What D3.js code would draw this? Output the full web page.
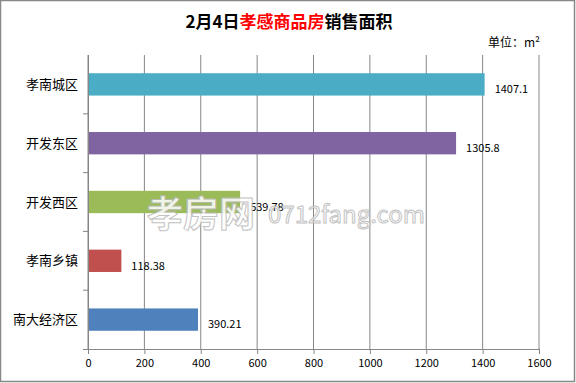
<!DOCTYPE html>
<html>
<head>
<meta charset="utf-8">
<script src="https://cdn.jsdelivr.net/npm/d3@7"></script>
<style>
  body { margin: 0; background: #fff; }
  svg text { font-family: "Noto Sans CJK SC", "DejaVu Sans", sans-serif; }
</style>
</head>
<body>
<div id="chart"></div>
<script>
// data
var categories = ["孝南城区", "开发东区", "开发西区", "孝南乡镇", "南大经济区"];
var areas = [1407.1, 1305.8, 539.78, 118.38, 390.21];
var labels = ["1407.1", "1305.8", "539.78", "118.38", "390.21"];
var barColors = ["#4BACC6", "#8064A2", "#9BBB59", "#C0504D", "#4F81BD"];
var xTicks = [0, 200, 400, 600, 800, 1000, 1200, 1400, 1600];

var svgWidth = 576, svgHeight = 383;
var margin = { top: 55, right: 37, bottom: 34, left: 88 };
var width = svgWidth - margin.left - margin.right;
var height = svgHeight - margin.top - margin.bottom;

var svg = d3.select("#chart").append("svg")
  .attr("width", svgWidth)
  .attr("height", svgHeight);

// outer frame
svg.append("rect")
  .attr("x", 0.5).attr("y", 0.5)
  .attr("width", svgWidth - 2).attr("height", svgHeight - 2)
  .attr("fill", "#fff")
  .attr("stroke", "#888")
  .attr("stroke-width", 1.5);

// title
var title = svg.append("text")
  .attr("x", 289).attr("y", 28)
  .attr("text-anchor", "middle")
  .attr("font-size", "17px")
  .attr("font-weight", "bold");
title.append("tspan").text("2月4日");
title.append("tspan").attr("fill", "#FF0000").text("孝感商品房");
title.append("tspan").text("销售面积");

svg.append("text")
  .attr("x", 488).attr("y", 47)
  .attr("font-size", "12px")
  .text("单位：m²");

var chartGroup = svg.append("g")
  .attr("transform", `translate(${margin.left}, ${margin.top})`);

var xScale = d3.scaleLinear().domain([0, 1600]).range([0, width]);
var yScale = d3.scaleBand().domain(categories).range([0, height]).paddingInner(0.62).paddingOuter(0.31);
var yBand = d3.scaleBand().domain(categories).range([0, height]);

// vertical grid
chartGroup.selectAll(".grid")
  .data(xTicks)
  .enter()
  .append("line")
  .attr("x1", d => xScale(d)).attr("x2", d => xScale(d))
  .attr("y1", 0).attr("y2", height)
  .attr("stroke", "#868686")
  .attr("stroke-width", 1);

// bottom axis
var bottomAxis = d3.axisBottom(xScale).tickValues(xTicks).tickFormat(d3.format("d"))
  .tickSize(5).tickSizeOuter(0);
var xAxis = chartGroup.append("g")
  .attr("transform", `translate(0, ${height})`)
  .call(bottomAxis);
xAxis.select(".domain").attr("stroke", "#868686").attr("d", `M-5,0.5H${width}`);
xAxis.selectAll(".tick line").attr("stroke", "#868686");
xAxis.selectAll(".tick text")
  .attr("font-size", "11px")
  .attr("dy", "0.95em")
  .attr("y", 8)
  .attr("fill", "#000");

// left axis: ticks between categories
var leftAxis = chartGroup.append("g");
leftAxis.append("line")
  .attr("x1", 0.5).attr("x2", 0.5)
  .attr("y1", 0).attr("y2", height)
  .attr("stroke", "#868686");
leftAxis.selectAll(".ytick")
  .data(categories.slice(1))
  .enter()
  .append("line")
  .attr("x1", -5).attr("x2", 0)
  .attr("y1", d => yBand(d)).attr("y2", d => yBand(d))
  .attr("stroke", "#868686");
leftAxis.selectAll(".ylab")
  .data(categories)
  .enter()
  .append("text")
  .attr("x", -10)
  .attr("y", d => yBand(d) + yBand.bandwidth() / 2)
  .attr("dy", "0.35em")
  .attr("text-anchor", "end")
  .attr("font-size", "13px")
  .text(d => d);

// bars
chartGroup.selectAll(".bar")
  .data(areas)
  .enter()
  .append("rect")
  .attr("x", 1)
  .attr("y", (d, i) => yScale(categories[i]))
  .attr("width", d => xScale(d) - 1)
  .attr("height", yScale.bandwidth())
  .attr("fill", (d, i) => barColors[i]);

// watermark
var wm = svg.append("g").attr("opacity", 0.85);
wm.append("text")
  .attr("x", 147).attr("y", 227)
  .attr("font-size", "36px")
  .attr("font-weight", "bold")
  .attr("fill", "#fff")
  .attr("stroke", "#b8b8b8")
  .attr("stroke-width", 1)
  .text("孝房网");
wm.append("text")
  .attr("x", 268).attr("y", 223)
  .attr("font-size", "24px")
  .attr("font-family", "Liberation Serif, serif")
  .attr("fill", "#fff")
  .attr("stroke", "#b8b8b8")
  .attr("stroke-width", 1)
  .text("0712fang.com");

// value labels
chartGroup.selectAll(".val")
  .data(areas)
  .enter()
  .append("text")
  .attr("x", d => xScale(d) + 10)
  .attr("y", (d, i) => yBand(categories[i]) + yBand.bandwidth() / 2 + 5)
  .attr("dy", "0.35em")
  .attr("font-size", "11px")
  .text((d, i) => labels[i]);
</script>
</body>
</html>
